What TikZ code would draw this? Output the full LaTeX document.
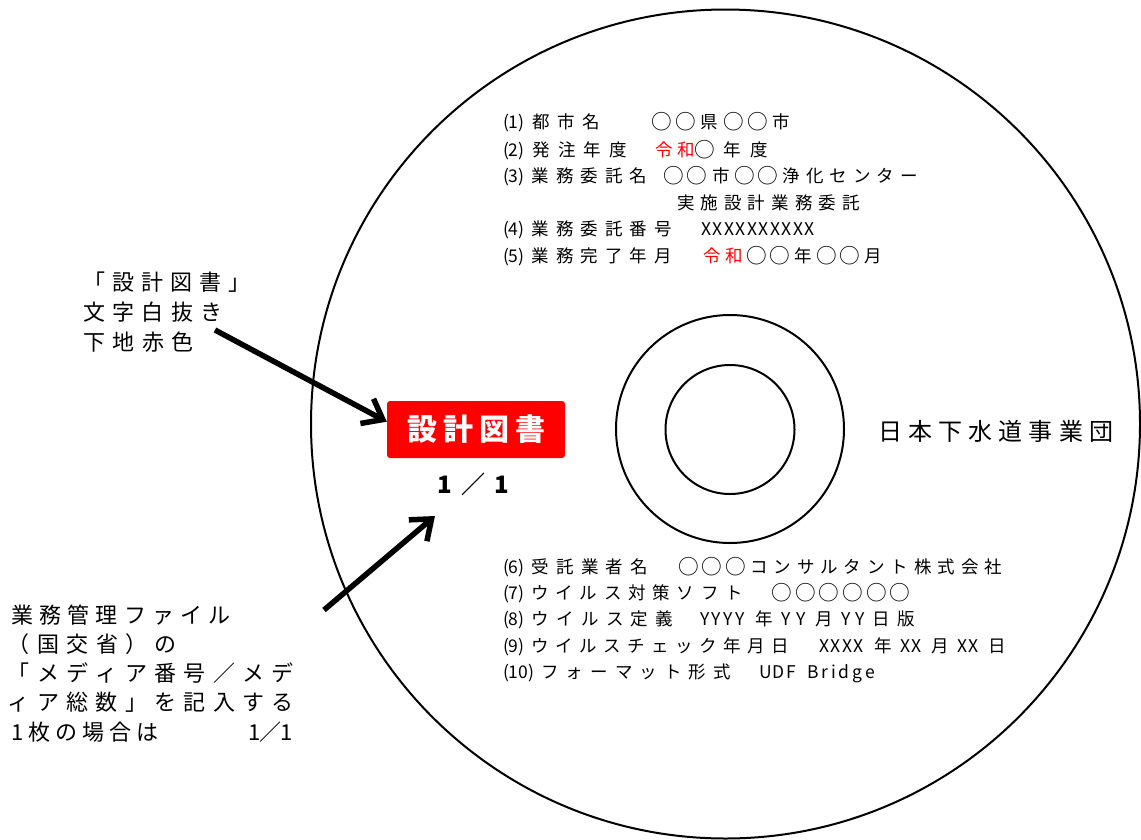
\documentclass[tikz,border=0pt]{standalone}
\usepackage{fontspec}
\usepackage{graphicx}
\usetikzlibrary{arrows.meta}
\newfontfamily\jp{Noto Sans CJK JP}
\definecolor{cdred}{RGB}{255,0,0}
\def\sprd#1{\sprdA#1\sprdEnd}
\def\sprdA#1#2\sprdEnd{#1\ifx\relax#2\relax\else\hskip 0pt plus 1fil minus 1fil\relax\sprdA#2\sprdEnd\fi}
\newcommand\sx[2]{\makebox[#1][s]{\sprd{#2}}}
\newcommand\mr{\makebox[1em]{\raisebox{-0.06em}{\scalebox{1.18}{○}}}}
\tikzset{
 sm/.style={anchor=base west, inner sep=0pt, outer sep=0pt, yshift=-6.6pt, font=\jp\fontsize{17.5pt}{17.5pt}\selectfont},
 lg/.style={anchor=base west, inner sep=0pt, outer sep=0pt, yshift=-8.4pt, font=\jp\fontsize{22pt}{22pt}\selectfont},
 arr/.style={line width=5.5pt, -{Straight Barb[length=18pt,width=28pt]}},
 disc/.style={line width=2pt}
}
\begin{document}
\begin{tikzpicture}[x=1pt,y=-1pt]
\fill[white] (0,0) rectangle (1141,839);
\useasboundingbox (0,0) rectangle (1141,839);
% disc
\draw[disc] (725.5,424) circle[radius=414.5];
\draw[disc] (730,429) circle[radius=114];
\draw[disc] (730,429.5) circle[radius=64.5];
% upper block
\node[sm] (t1a) at (503,122) {\sx{97pt}{{(1)}都市名}};
\node[sm] (t1b) at (653,122) {\sx{137pt}{\mr\mr 県\mr\mr 市}};
\node[sm] (t2a) at (503,149.5) {\sx{124pt}{{(2)}発注年度}};
\node[sm,text=cdred] (t2b) at (655,149.5) {\sx{40pt}{令和}};
\node[sm] (t2c) at (696,149.5) {\sx{72pt}{\mr 年度}};
\node[sm] (t3a) at (503,176) {\sx{144pt}{{(3)}業務委託名}};
\node[sm] (t3b) at (665,176) {\sx{253pt}{\mr\mr 市\mr\mr 浄化センター}};
\node[sm] (t3c) at (677,202.5) {\sx{183pt}{実施設計業務委託}};
\node[sm] (t4a) at (503,229) {\sx{169pt}{{(4)}業務委託番号}};
\node[sm] (t4b) at (701,229) {\sx{114pt}{XXXXXXXXXX}};
\node[sm] (t5a) at (503,255.5) {\sx{169pt}{{(5)}業務完了年月}};
\node[sm,text=cdred] (t5b) at (703,255.5) {\sx{40pt}{令和}};
\node[sm] (t5c) at (748,255.5) {\sx{134pt}{\mr\mr 年\mr\mr 月}};
% lower block
\node[sm] (b6a) at (503,566.5) {\sx{145pt}{{(6)}受託業者名}};
\node[sm] (b6b) at (680,566.5) {\sx{322pt}{\mr\mr\mr コンサルタント株式会社}};
\node[sm] (b7a) at (503,592.5) {\sx{240pt}{{(7)}ウイルス対策ソフト}};
\node[sm] (b7b) at (773,592.5) {\sx{136pt}{\mr\mr\mr\mr\mr\mr}};
\node[sm] (b8a) at (503,619) {\sx{170pt}{{(8)}ウイルス定義}};
\node[sm] (b8b) at (700,619) {\sx{45pt}{YYYY}};
\node[sm] (b8c) at (755,619) {\sx{17.5pt}{年}};
\node[sm] (b8d) at (781,619) {\sx{25pt}{YY}};
\node[sm] (b8e) at (815,619) {\sx{17.5pt}{月}};
\node[sm] (b8f) at (841,619) {\sx{24pt}{YY}};
\node[sm] (b8g) at (872,619) {\sx{43pt}{日版}};
\node[sm] (b9a) at (503,645.5) {\sx{286pt}{{(9)}ウイルスチェック年月日}};
\node[sm] (b9b) at (819,645.5) {\sx{45pt}{XXXX}};
\node[sm] (b9c) at (874,645.5) {\sx{17.5pt}{年}};
\node[sm] (b9d) at (900,645.5) {\sx{22pt}{XX}};
\node[sm] (b9e) at (931,645.5) {\sx{17.5pt}{月}};
\node[sm] (b9f) at (957,645.5) {\sx{22pt}{XX}};
\node[sm] (b9g) at (988,645.5) {\sx{17.5pt}{日}};
\node[sm] (b10a) at (503,672) {\sx{228pt}{{(10)}フォーマット形式}};
\node[sm] (b10b) at (759,672) {\sx{37pt}{UDF}};
\node[sm] (b10c) at (807,672) {\sx{68pt}{Bridge}};
% organisation
\node[anchor=base west, inner sep=0pt, yshift=-9.1pt, font=\jp\fontsize{24pt}{24pt}\selectfont] (org) at (878,431) {\sx{235pt}{日本下水道事業団}};
% red label
\node[fill=cdred, rounded corners=3pt, minimum width=178pt, minimum height=57pt, inner sep=0pt, text=white, font=\jp\bfseries\fontsize{30pt}{30pt}\selectfont] (redbox) at (476,429.5) {\sx{138pt}{設計図書}};
\node[inner sep=0pt, font=\jp\bfseries\fontsize{24pt}{24pt}\selectfont] (frac) at (473,484) {\sx{72pt}{1／1}};
% left notes
\node[lg] (n1) at (83,282) {\sx{168pt}{「設計図書」}};
\node[lg] (n2) at (83,312) {\sx{140pt}{文字白抜き}};
\node[lg] (n3) at (83,342) {\sx{111pt}{下地赤色}};
\node[lg] (m1) at (11,615) {\sx{220pt}{業務管理ファイル}};
\node[lg] (m2) at (8,644) {\sx{169pt}{（国交省）の}};
\node[lg] (m3) at (8,673) {\sx{286pt}{「メディア番号／メデ}};
\node[lg] (m4) at (8,702) {\sx{286pt}{ィア総数」を記入する}};
\node[lg] (m5) at (11,732) {\sx{148pt}{1枚の場合は}};
\node[lg] (m6) at (248,732) {\sx{45pt}{1／1}};
% arrows
\coordinate (a1s) at (215,330);
\draw[arr] (a1s) -- (redbox.175.6);
\coordinate (a2s) at (324,610);
\coordinate (a2e) at (435,516);
\draw[arr] (a2s) -- (a2e);
\end{tikzpicture}
\end{document}
